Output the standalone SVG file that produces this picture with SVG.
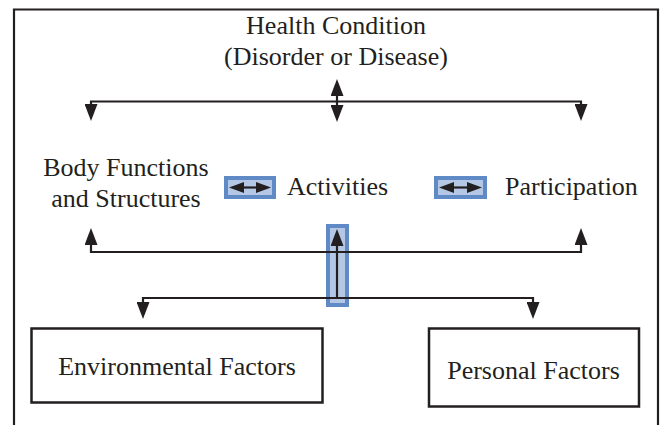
<svg xmlns="http://www.w3.org/2000/svg" width="660" height="425" viewBox="0 0 660 425">
  <defs>
    <style>
      .t { font-family: "Liberation Serif", "Times New Roman", serif; font-size: 26px; fill: #231f20; }
      .ln { fill: none; stroke: #231f20; stroke-width: 2.2; }
      .box { fill: #ffffff; stroke: #231f20; stroke-width: 2.5; }
      .blue { fill: #b4c8e6; stroke: #5f8ac6; stroke-width: 4; }
    </style>
    <marker id="ah" viewBox="0 0 17 13" refX="11" refY="6.5" markerWidth="17" markerHeight="13" markerUnits="userSpaceOnUse" orient="auto-start-reverse">
      <path d="M0,0 L17,6.5 L0,13 z" fill="#231f20"/>
    </marker>
    <marker id="ahs" viewBox="0 0 15 11" refX="9" refY="5.5" markerWidth="15" markerHeight="11" markerUnits="userSpaceOnUse" orient="auto-start-reverse">
      <path d="M0,0 L15,5.5 L0,11 z" fill="#231f20"/>
    </marker>
  </defs>
  <rect width="660" height="425" fill="#ffffff"/>
  <path class="ln" d="M14,425 V9.5 H658 V425" stroke-width="2"/>

  <g id="health-condition">
    <text class="t" x="336" y="34" text-anchor="middle">Health Condition</text>
    <text class="t" x="336" y="65" text-anchor="middle">(Disorder or Disease)</text>
  </g>

  <g id="body-functions">
    <text class="t" x="126" y="176" text-anchor="middle">Body Functions</text>
    <text class="t" x="126" y="207" text-anchor="middle">and Structures</text>
  </g>

  <g id="activities">
    <text class="t" x="287" y="195">Activities</text>
  </g>

  <g id="participation">
    <text class="t" x="505" y="195">Participation</text>
  </g>

  <g id="environmental-factors">
    <rect class="box" x="31.5" y="328.5" width="291" height="74"/>
    <text class="t" x="177" y="375" text-anchor="middle">Environmental Factors</text>
  </g>

  <g id="personal-factors">
    <rect class="box" x="429" y="328.5" width="210" height="78"/>
    <text class="t" x="533.5" y="379" text-anchor="middle">Personal Factors</text>
  </g>

  <g id="connectors">
    <rect class="blue" x="226" y="178" width="48" height="19"/>
    <rect class="blue" x="436" y="178" width="49" height="19"/>
    <rect class="blue" x="328" y="226" width="19" height="79"/>
    <path class="ln" d="M235,187.5 H265" stroke-width="3" marker-start="url(#ahs)" marker-end="url(#ahs)"/>
    <path class="ln" d="M445,187.5 H476" stroke-width="3" marker-start="url(#ahs)" marker-end="url(#ahs)"/>

    <path class="ln" d="M91,115 V101.5 H581 V115" marker-start="url(#ah)" marker-end="url(#ah)"/>
    <path class="ln" d="M337,85 V116" marker-start="url(#ah)" marker-end="url(#ah)"/>

    <path class="ln" d="M91,234 V252 H581 V234" marker-start="url(#ah)" marker-end="url(#ah)"/>
    <path class="ln" d="M337,298 V235" marker-end="url(#ah)"/>

    <path class="ln" d="M143,313 V298 H533 V313" marker-start="url(#ah)" marker-end="url(#ah)"/>
  </g>
</svg>
